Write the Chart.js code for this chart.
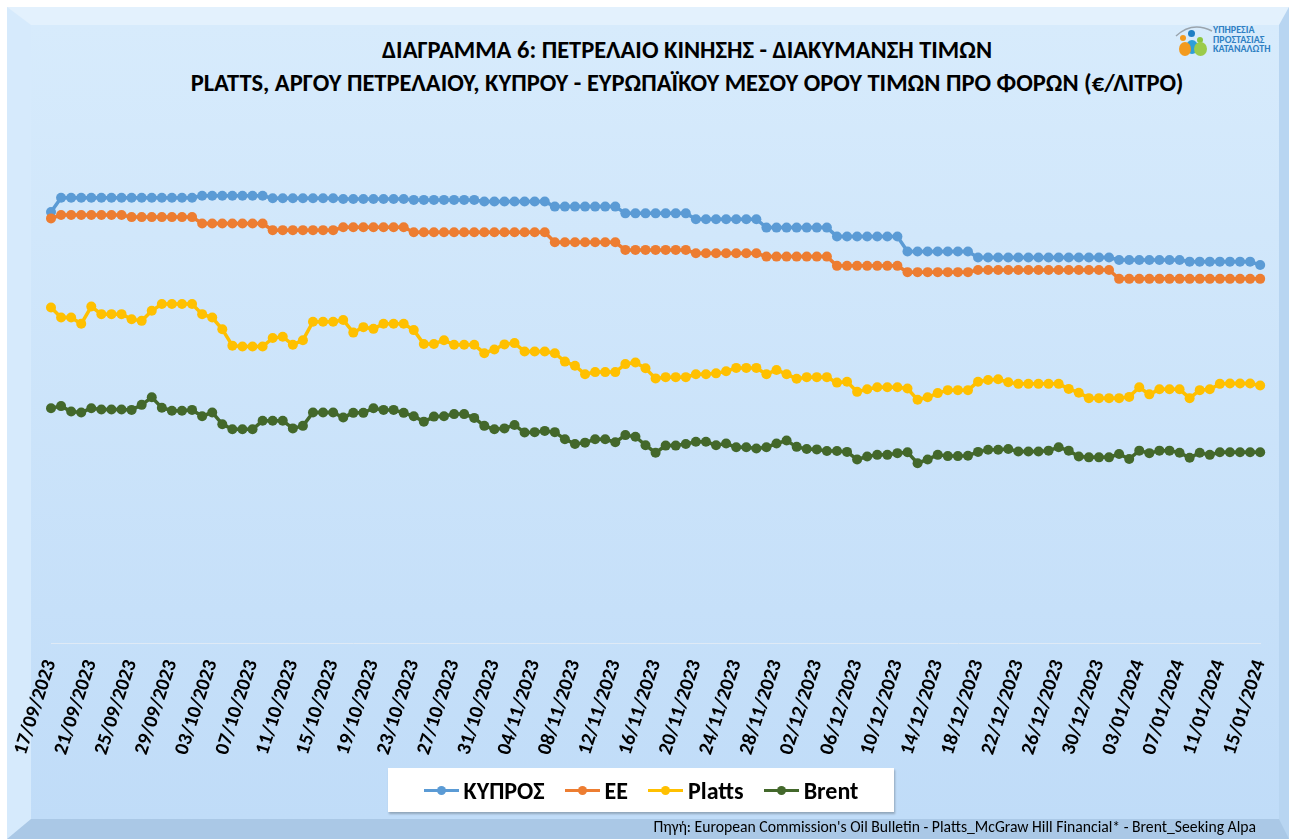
<!DOCTYPE html>
<html>
<head>
<meta charset="utf-8">
<title>Διάγραμμα 6</title>
<script src="https://cdn.jsdelivr.net/npm/chart.js@4.4.1/dist/chart.umd.min.js"></script>
<style>
    html, body { margin: 0; padding: 0; background: #fff; }
    body {
        width: 1289px; height: 839px; position: relative; overflow: hidden;
        font-family: Carlito, 'Liberation Sans Narrow', 'Open Sans', sans-serif;
    }
    #frame {
        position: absolute; left: 7px; top: 7px; width: 1282px; height: 832px;
        box-sizing: border-box; border-style: solid; border-width: 18px 10px 20px 24px;
        border-color: #e3f1fd #b8d5f1 #aac8e6 #d6eafc;
        background: linear-gradient(#d7ebfc, #c0dcf8);
    }
    #chart { position: absolute; left: 0; top: 0; }
    .title {
        position: absolute; left: 187px; width: 1000px; text-align: center;
        font-weight: bold; font-size: 24.5px; line-height: 28px; color: #000; white-space: nowrap;
    }
    #logo { position: absolute; left: 1172px; top: 22px; width: 110px; height: 40px; }
    #logo .txt {
        position: absolute; left: 41px; top: 3px; font-size: 10px; line-height: 9.5px;
        font-weight: bold; color: #2f80c3; white-space: nowrap;
    }
    .dot { position: absolute; border-radius: 50%; }
    #legend {
        position: absolute; left: 388px; top: 768px; width: 506px; height: 44px;
        background: #fff; box-shadow: 1px 2px 2px rgba(0,0,0,0.25);
        display: flex; align-items: center; justify-content: center; gap: 20px;
    }
    .item { display: flex; align-items: center; font-weight: bold; font-size: 24px; color: #000; }
    .sym { position: relative; width: 35px; height: 3px; margin-right: 5px; }
    .sym i { position: absolute; left: 13px; top: -3px; width: 9px; height: 9px; border-radius: 50%; }
    #source {
        position: absolute; right: 33px; top: 818px; font-size: 15.7px; line-height: 18px;
        color: #000; white-space: nowrap;
    }
</style>
</head>
<body>
<div id="frame"></div>
<div class="title" style="top:36px">ΔΙΑΓΡΑΜΜΑ 6: ΠΕΤΡΕΛΑΙΟ ΚΙΝΗΣΗΣ - ΔΙΑΚΥΜΑΝΣΗ ΤΙΜΩΝ</div>
<div class="title" style="top:69px">PLATTS, ΑΡΓΟΥ ΠΕΤΡΕΛΑΙΟΥ, ΚΥΠΡΟΥ - ΕΥΡΩΠΑΪΚΟΥ ΜΕΣΟΥ ΟΡΟΥ ΤΙΜΩΝ ΠΡΟ ΦΟΡΩΝ (€/ΛΙΤΡΟ)</div>
<div id="logo">
    <svg width="42" height="40" style="position:absolute;left:0;top:0">
        <path d="M4 14 Q20 -1 40 9" stroke="#9aa4ad" stroke-width="1.5" fill="none"/>
    </svg>
    <div class="dot" style="left:16px;top:8px;width:7px;height:7px;background:#1f7fc4"></div>
    <div class="dot" style="left:8px;top:13px;width:6px;height:6px;background:#f39a1e"></div>
    <div class="dot" style="left:25px;top:15px;width:6px;height:6px;background:#8cc63f"></div>
    <div class="dot" style="left:14px;top:18px;width:12px;height:14px;background:#2e9fd8"></div>
    <div class="dot" style="left:7px;top:20px;width:12px;height:14px;background:#f39a1e"></div>
    <div class="dot" style="left:22px;top:20px;width:13px;height:14px;background:#9ccb4a"></div>
    <div class="txt">ΥΠΗΡΕΣΙΑ<br>ΠΡΟΣΤΑΣΙΑΣ<br>ΚΑΤΑΝΑΛΩΤΗ</div>
</div>
<canvas id="chart" width="1289" height="839"></canvas>
<div id="legend"></div>
<div id="source">Πηγή: European Commission's Oil Bulletin - Platts_McGraw Hill Financial* - Brent_Seeking Alpa</div>

<script>
    // daily dates 17/09/2023 .. 15/01/2024
    const categories = [];
    for (let i = 0; i < 121; i++) {
        const d = new Date(Date.UTC(2023, 8, 17 + i));
        categories.push(String(d.getUTCDate()).padStart(2, '0') + '/' +
            String(d.getUTCMonth() + 1).padStart(2, '0') + '/' + d.getUTCFullYear());
    }
    const tickStep = 4; // a label every 4th day

    const cyprus = [
        1.026,
        1.060, 1.060, 1.060, 1.060, 1.060, 1.060, 1.060,
        1.060, 1.060, 1.060, 1.060, 1.060, 1.060, 1.060,
        1.065, 1.065, 1.065, 1.065, 1.065, 1.065, 1.065,
        1.059, 1.059, 1.059, 1.059, 1.059, 1.059, 1.059,
        1.057, 1.057, 1.057, 1.057, 1.057, 1.057, 1.057,
        1.055, 1.055, 1.055, 1.055, 1.055, 1.055, 1.055,
        1.051, 1.051, 1.051, 1.051, 1.051, 1.051, 1.051,
        1.039, 1.039, 1.039, 1.039, 1.039, 1.039, 1.039,
        1.023, 1.023, 1.023, 1.023, 1.023, 1.023, 1.023,
        1.009, 1.009, 1.009, 1.009, 1.009, 1.009, 1.009,
        0.989, 0.989, 0.989, 0.989, 0.989, 0.989, 0.989,
        0.968, 0.968, 0.968, 0.968, 0.968, 0.968, 0.968,
        0.932, 0.932, 0.932, 0.932, 0.932, 0.932, 0.932,
        0.918, 0.918, 0.918, 0.918, 0.918, 0.918, 0.918,
        0.918, 0.918, 0.918, 0.918, 0.918, 0.918, 0.918,
        0.912, 0.912, 0.912, 0.912, 0.912, 0.912, 0.912,
        0.908, 0.908, 0.908, 0.908, 0.908, 0.908, 0.908,
        0.900
    ];
    const ee = [
        1.011,
        1.019, 1.019, 1.019, 1.019, 1.019, 1.019, 1.019,
        1.014, 1.014, 1.014, 1.014, 1.014, 1.014, 1.014,
        0.999, 0.999, 0.999, 0.999, 0.999, 0.999, 0.999,
        0.983, 0.983, 0.983, 0.983, 0.983, 0.983, 0.983,
        0.990, 0.990, 0.990, 0.990, 0.990, 0.990, 0.990,
        0.978, 0.978, 0.978, 0.978, 0.978, 0.978, 0.978,
        0.978, 0.978, 0.978, 0.978, 0.978, 0.978, 0.978,
        0.954, 0.954, 0.954, 0.954, 0.954, 0.954, 0.954,
        0.936, 0.936, 0.936, 0.936, 0.936, 0.936, 0.936,
        0.928, 0.928, 0.928, 0.928, 0.928, 0.928, 0.928,
        0.920, 0.920, 0.920, 0.920, 0.920, 0.920, 0.920,
        0.898, 0.898, 0.898, 0.898, 0.898, 0.898, 0.898,
        0.883, 0.883, 0.883, 0.883, 0.883, 0.883, 0.883,
        0.888, 0.888, 0.888, 0.888, 0.888, 0.888, 0.888,
        0.888, 0.888, 0.888, 0.888, 0.888, 0.888, 0.888,
        0.867, 0.867, 0.867, 0.867, 0.867, 0.867, 0.867,
        0.867, 0.867, 0.867, 0.867, 0.867, 0.867, 0.867,
        0.867
    ];
    const platts = [
        0.799, 0.775, 0.775, 0.760, 0.801, 0.783, 0.783, 0.783, 0.771, 0.767,
        0.791, 0.807, 0.807, 0.807, 0.807, 0.783, 0.775, 0.747, 0.708, 0.706,
        0.706, 0.706, 0.726, 0.729, 0.710, 0.721, 0.765, 0.765, 0.765, 0.769,
        0.739, 0.752, 0.748, 0.760, 0.760, 0.760, 0.745, 0.712, 0.712, 0.721,
        0.710, 0.710, 0.710, 0.690, 0.699, 0.711, 0.714, 0.694, 0.694, 0.694,
        0.690, 0.670, 0.660, 0.640, 0.645, 0.645, 0.645, 0.664, 0.668, 0.654,
        0.630, 0.633, 0.633, 0.633, 0.640, 0.640, 0.642, 0.647, 0.655, 0.655,
        0.655, 0.640, 0.650, 0.640, 0.629, 0.633, 0.633, 0.633, 0.620, 0.622,
        0.598, 0.604, 0.609, 0.609, 0.609, 0.606, 0.579, 0.585, 0.595, 0.602,
        0.602, 0.602, 0.622, 0.626, 0.628, 0.621, 0.617, 0.617, 0.617, 0.617,
        0.617, 0.605, 0.596, 0.583, 0.583, 0.583, 0.583, 0.586, 0.609, 0.592,
        0.604, 0.604, 0.604, 0.583, 0.602, 0.604, 0.617, 0.618, 0.618, 0.618,
        0.613
    ];
    const brent = [
        0.559, 0.564, 0.551, 0.549, 0.559, 0.556, 0.556, 0.556, 0.555, 0.567,
        0.585, 0.560, 0.553, 0.553, 0.555, 0.540, 0.549, 0.521, 0.509, 0.509,
        0.509, 0.529, 0.529, 0.529, 0.511, 0.517, 0.549, 0.549, 0.549, 0.537,
        0.548, 0.548, 0.559, 0.555, 0.555, 0.548, 0.540, 0.527, 0.539, 0.540,
        0.545, 0.545, 0.536, 0.517, 0.509, 0.511, 0.519, 0.501, 0.502, 0.505,
        0.502, 0.485, 0.474, 0.477, 0.485, 0.485, 0.478, 0.495, 0.491, 0.471,
        0.453, 0.470, 0.470, 0.474, 0.479, 0.479, 0.471, 0.475, 0.466, 0.466,
        0.463, 0.466, 0.475, 0.482, 0.467, 0.462, 0.461, 0.457, 0.457, 0.455,
        0.437, 0.444, 0.448, 0.448, 0.452, 0.454, 0.428, 0.437, 0.448, 0.445,
        0.445, 0.446, 0.455, 0.460, 0.460, 0.462, 0.456, 0.456, 0.456, 0.458,
        0.466, 0.458, 0.444, 0.442, 0.442, 0.442, 0.450, 0.438, 0.458, 0.452,
        0.458, 0.458, 0.453, 0.441, 0.453, 0.448, 0.454, 0.454, 0.454, 0.454,
        0.454
    ];

    const fontFamily = "Carlito, 'Liberation Sans Narrow', 'Open Sans', sans-serif";

    function series(label, data, color, order) {
        return {
            label: label, data: data, order: order, clip: false,
            borderColor: color, backgroundColor: color,
            pointBackgroundColor: color, pointBorderColor: color,
            borderWidth: 3.5, pointRadius: 5, pointBorderWidth: 0, pointHoverRadius: 5,
            tension: 0
        };
    }

    const chart = new Chart('chart', {
        type: 'line',
        data: {
            labels: categories,
            datasets: [
                series('ΚΥΠΡΟΣ', cyprus, '#5b9bd5', 3),
                series('ΕΕ', ee, '#ed7d31', 2),
                series('Platts', platts, '#ffc000', 1),
                series('Brent', brent, '#43682b', 0)
            ]
        },
        options: {
            responsive: false,
            animation: false,
            layout: { padding: { left: 51, right: 18, top: 118, bottom: 76 } },
            plugins: { legend: { display: false }, title: { display: false }, tooltip: { enabled: false } },
            scales: {
                x: {
                    grid: { display: false },
                    border: { display: true, color: 'rgba(225,235,245,0.9)', width: 1 },
                    ticks: {
                        autoSkip: false, minRotation: 72, maxRotation: 72, padding: 6,
                        color: '#000', font: { family: fontFamily, size: 20, weight: 'bold' },
                        callback: (v, i) => i % tickStep === 0 ? categories[i] : ''
                    },
                    afterFit: (scale) => { scale.height = 120; }
                },
                y: { display: false, min: 0, max: 1.25 }
            }
        }
    });

    // legend built from the datasets
    const legend = document.getElementById('legend');
    chart.data.datasets.forEach(ds => {
        const item = document.createElement('div');
        item.className = 'item';
        item.innerHTML = '<span class="sym" style="background:' + ds.borderColor + '"><i style="background:' +
            ds.borderColor + '"></i></span>' + ds.label;
        legend.appendChild(item);
    });
</script>
</body>
</html>
